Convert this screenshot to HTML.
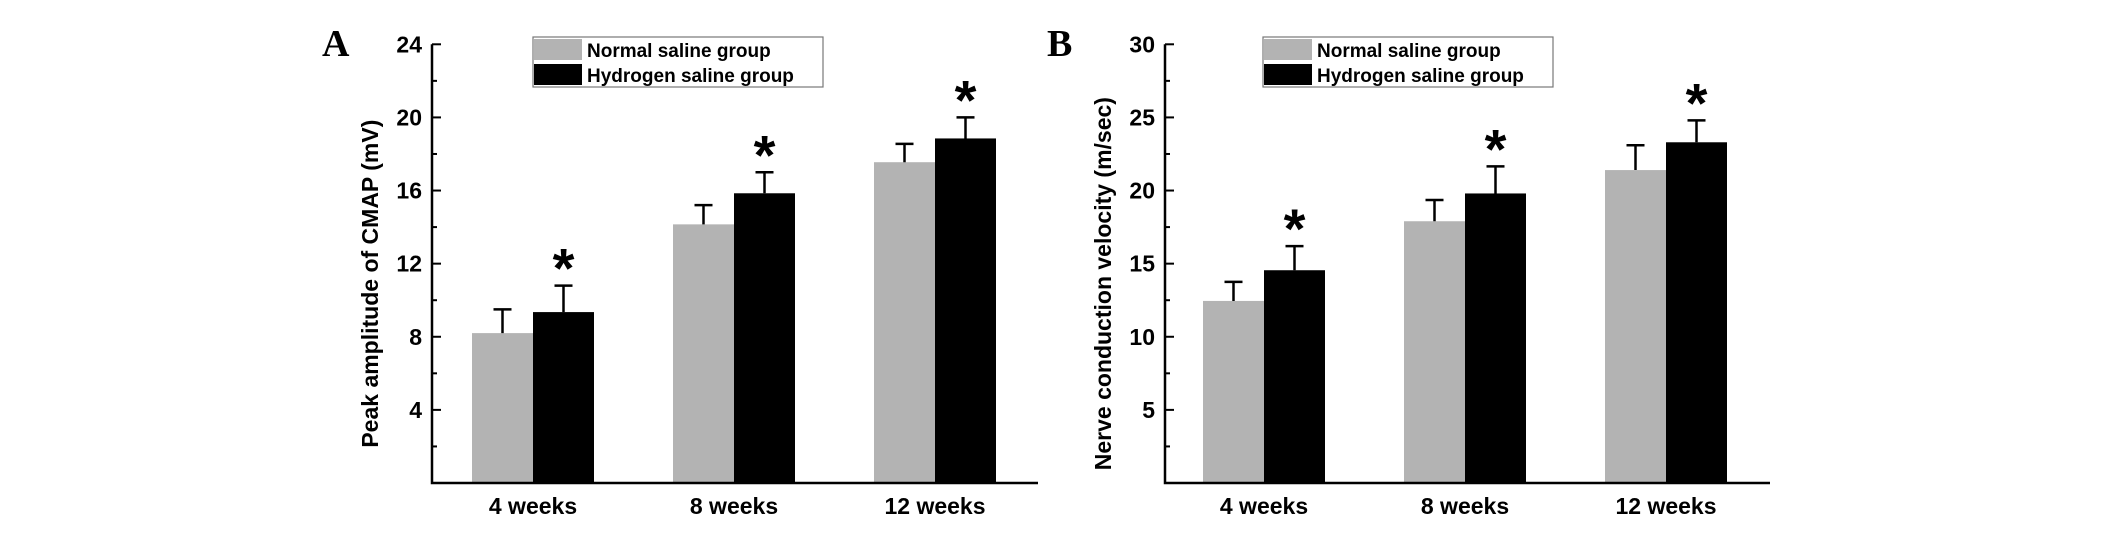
<!DOCTYPE html>
<html><head><meta charset="utf-8"><style>
html,body{margin:0;padding:0;background:#fff;}
svg{display:block;font-family:"Liberation Sans",sans-serif;}
</style></head><body>
<svg id="chart" width="2126" height="536" viewBox="0 0 2126 536" xmlns="http://www.w3.org/2000/svg"></svg>
<script>
const categories = ["4  weeks", "8 weeks", "12  weeks"];
const seriesNames = ["Normal saline group", "Hydrogen saline group"];
const aNormal = [8.2, 14.15, 17.55];
const aNormalErr = [1.3, 1.05, 1.0];
const aHydrogen = [9.35, 15.85, 18.85];
const aHydrogenErr = [1.45, 1.15, 1.15];
const aTicks = [4, 8, 12, 16, 20, 24];
const bNormal = [12.45, 17.9, 21.4];
const bNormalErr = [1.3, 1.45, 1.7];
const bHydrogen = [14.55, 19.8, 23.3];
const bHydrogenErr = [1.65, 1.85, 1.5];
const bTicks = [5, 10, 15, 20, 25, 30];

const NS = "http://www.w3.org/2000/svg";
const svg = document.getElementById("chart");
function mk(tag, attrs, parent, text){
  const e = document.createElementNS(NS, tag);
  for (const k in attrs) e.setAttribute(k, attrs[k]);
  if (text !== undefined) e.textContent = text;
  (parent || svg).appendChild(e);
  return e;
}

function panel(cfg){
  const g = mk("g", {});
  
  
  const x0 = cfg.x0, x1 = cfg.x1, yTop = 44.3, yBase = 483;
  const yScale = v => yBase - (v / cfg.max) * (yBase - yTop);
  const xCenter = i => cfg.c0 + i * 201;
  const bw = 61;

  const letter = mk("text", {x: cfg.letterX, y: 56, "font-family": "Liberation Serif, serif", "font-weight": "bold", "font-size": 38}, g, cfg.letter);
  
  

  const series = [[cfg.normal, cfg.normalErr, "#b3b3b3", -1], [cfg.hyd, cfg.hydErr, "#000", 0]];
  series.forEach((s, si) => {
    s[0].forEach((v, i) => {
      const bx = xCenter(i) + s[3] * bw;
      const y = yScale(v);
      const r = mk("rect", {x: bx, y: y, width: bw, height: yBase - y, fill: s[2]}, g);
      
      
      const cx = bx + bw / 2;
      const ye = yScale(v + s[1][i]);
      const eb = mk("path", {d: `M${cx},${y} V${ye} M${cx-9},${ye} H${cx+9}`, stroke: "#000", "stroke-width": 2.5, fill: "none"}, g);
      
      
      if (si === 1) {
        const st = mk("text", {x: cx, y: ye + 2, "text-anchor": "middle", "font-weight": "bold", "font-size": 56}, g, "*");
        
        
      }
    });
  });

  const ax = mk("path", {d: `M${x0},${yTop} V${yBase} H${x1}`, stroke: "#000", "stroke-width": 2.5, fill: "none"}, g);
  
  
  cfg.ticks.forEach(t => {
    const y = yScale(t);
    const tk = mk("line", {x1: x0, x2: x0 + 9, y1: y, y2: y, stroke: "#000", "stroke-width": 2}, g);
    
    
    const ym = yScale(t - cfg.ticks[0] / 2);
    const mt = mk("line", {x1: x0, x2: x0 + 5, y1: ym, y2: ym, stroke: "#000", "stroke-width": 2}, g);
    
    
    const lb = mk("text", {x: x0 - 10, y: y + 8, "text-anchor": "end", "font-weight": "bold", "font-size": 23}, g, String(t));
    
    
  });
  categories.forEach((c, i) => {
    const t = mk("text", {x: xCenter(i), y: 514, "text-anchor": "middle", "font-weight": "bold", "font-size": 23, "xml:space": "preserve"}, g, c);
    
    
  });
  const yt = mk("text", {x: 0, y: 0, transform: `translate(${cfg.titleX},${(yTop + yBase) / 2 + 20}) rotate(-90)`, "text-anchor": "middle", "font-weight": "bold", "font-size": 23}, g, cfg.title);
  
  

  const lg = mk("g", {}, g);
  
  
  const lx = cfg.legX;
  const lbx = mk("rect", {x: lx, y: 37, width: 290, height: 50, fill: "#fff", stroke: "#777", "stroke-width": 1.2}, lg);
  
  
  ["#b3b3b3", "#000"].forEach((col, i) => {
    const sw = mk("rect", {x: lx + 1, y: 39 + i * 25, width: 48, height: 21, fill: col}, lg);
    
    
    const tx = mk("text", {x: lx + 54, y: 57 + i * 25, "font-weight": "bold", "font-size": 19}, lg, seriesNames[i]);
    
    
  });
}

panel({name: "panel-a", letter: "A", letterX: 322, x0: 432, x1: 1038, c0: 533, max: 24, ticks: aTicks,
  normal: aNormal, normalErr: aNormalErr, hyd: aHydrogen, hydErr: aHydrogenErr,
  title: "Peak amplitude of CMAP (mV)", titleX: 378, legX: 533});
panel({name: "panel-b", letter: "B", letterX: 1047, x0: 1165, x1: 1770, c0: 1264, max: 30, ticks: bTicks,
  normal: bNormal, normalErr: bNormalErr, hyd: bHydrogen, hydErr: bHydrogenErr,
  title: "Nerve conduction velocity (m/sec)", titleX: 1111, legX: 1263});
</script>
</body></html>
